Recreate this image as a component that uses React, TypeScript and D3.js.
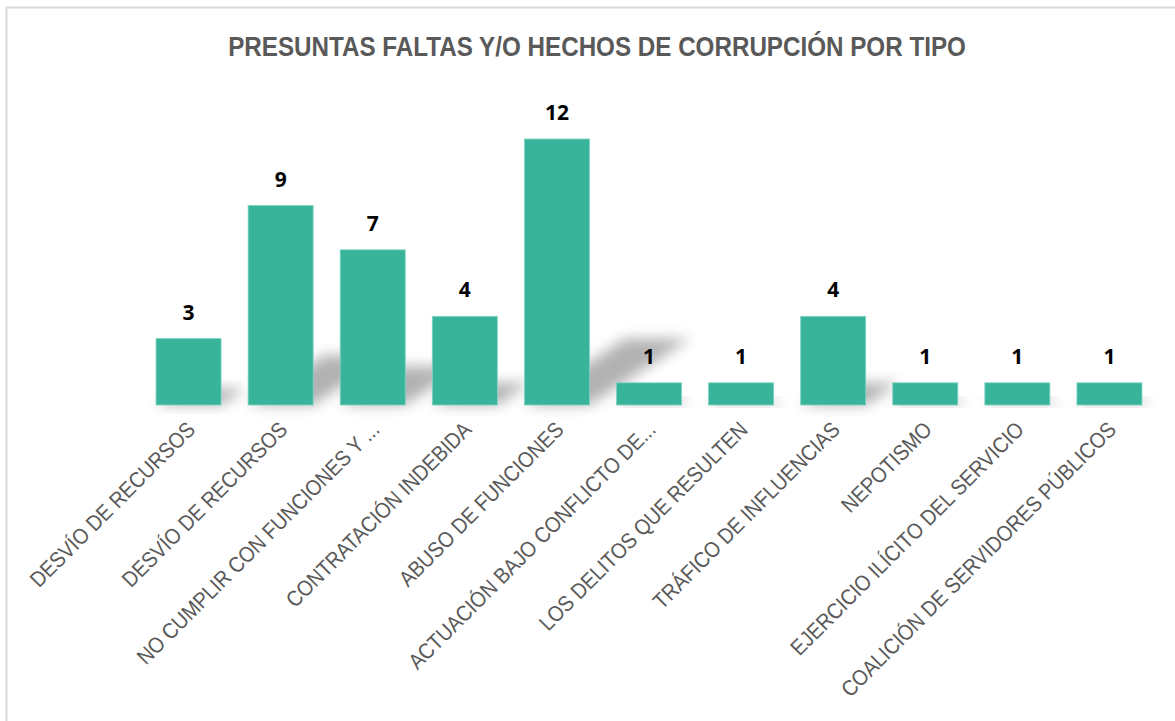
import React from "react";
import * as d3 from "d3";

const title = "PRESUNTAS FALTAS Y/O HECHOS DE CORRUPCIÓN POR TIPO";
const categories = [
  "DESVÍO DE RECURSOS",
  "DESVÍO DE RECURSOS ",
  "NO CUMPLIR CON FUNCIONES Y ...",
  "CONTRATACIÓN INDEBIDA",
  "ABUSO DE FUNCIONES",
  "ACTUACIÓN BAJO CONFLICTO DE...",
  "LOS DELITOS QUE RESULTEN",
  "TRÁFICO DE INFLUENCIAS",
  "NEPOTISMO",
  "EJERCICIO ILÍCITO DEL SERVICIO",
  "COALICIÓN DE SERVIDORES PÚBLICOS",
];
const values = [3, 9, 7, 4, 12, 1, 1, 4, 1, 1, 1];

const W = 1175;
const H = 721;
const baseY = 405;
const topY = 139;

export default function App() {
  const x = d3
    .scaleBand<number>()
    .domain(d3.range(categories.length))
    .range([142.5, 1155.5])
    .paddingInner(0.294)
    .paddingOuter(0.147);
  const y = d3.scaleLinear().domain([0, 12]).range([baseY, topY]);
  const font = "'Liberation Sans', Arial, sans-serif";

  return (
    <svg
      width={W}
      height={H}
      style={{ position: "absolute", left: 0, top: 0, background: "#fff" }}
    >
      <defs>
        <filter id="blur" x="-50%" y="-50%" width="200%" height="200%">
          <feGaussianBlur stdDeviation="7" />
        </filter>
      </defs>
      <rect x={6.5} y={7.5} width={W} height={H} fill="#fff" stroke="#d9d9d9" strokeWidth={2} />
      <text
        transform="translate(597,56) scale(0.865,1)"
        textAnchor="middle"
        fontFamily={font}
        fontWeight="bold"
        fontSize={28}
        fill="#595959"
      >
        {title}
      </text>
      <g>
        {values.map((v, i) => {
          const x0 = x(i)!;
          const x1 = x0 + x.bandwidth();
          const h = baseY - y(v);
          const dy = h * 0.25;
          const dx = h * 0.38;
          const d = `M${x0},${baseY} L${x1},${baseY} L${x1 + dx},${baseY - dy} L${x0 + dx},${baseY - dy} Z`;
          return <path key={"s" + i} d={d} fill="#000" opacity={0.3} filter="url(#blur)" />;
        })}
      </g>
      <g>
        {values.map((v, i) => (
          <rect
            key={"b" + i}
            x={x(i)}
            y={y(v)}
            width={x.bandwidth()}
            height={baseY - y(v)}
            fill="#38b49a"
            stroke="#7fd3c1"
            strokeWidth={0.8}
          />
        ))}
      </g>
      <g>
        {values.map((v, i) => (
          <text
            key={"v" + i}
            x={x(i)! + x.bandwidth() / 2}
            y={y(v) - 19}
            textAnchor="middle"
            fontFamily="'Open Sans', 'Noto Sans', sans-serif"
            fontWeight="bold"
            fontSize={21}
            fill="#000"
          >
            {v}
          </text>
        ))}
      </g>
      <g>
        {categories.map((c, i) => {
          const cx = x(i)! + x.bandwidth() / 2 + 8;
          const cy = 431;
          return (
            <text
              key={"c" + i}
              transform={`translate(${cx},${cy}) rotate(-45) scale(0.89,1)`}
              textAnchor="end"
              fontFamily={font}
              fontSize={22}
              fill="#595959"
            >
              {c.trim()}
            </text>
          );
        })}
      </g>
    </svg>
  );
}
